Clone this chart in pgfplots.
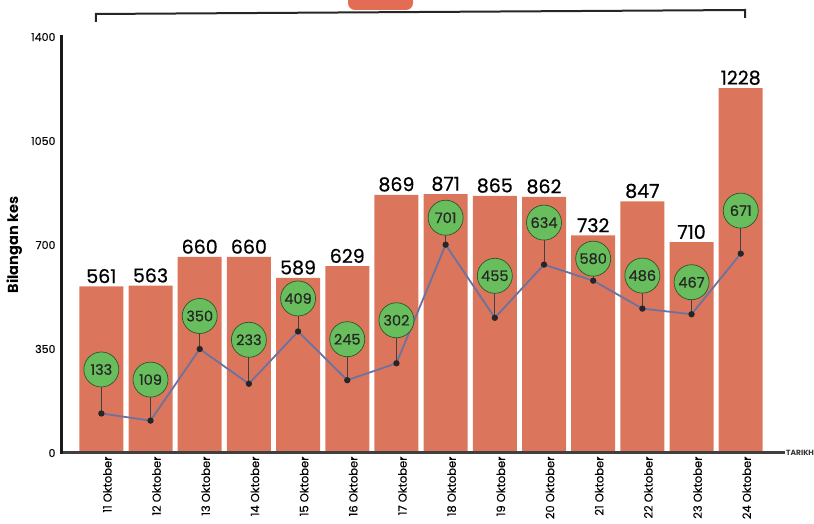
\documentclass[border=0pt]{standalone}
\usepackage{fontspec}
\setmainfont{Poppins}
\newfontfamily\numfont[FakeBold=0.6]{Poppins}
\newfontfamily\tickfont[FakeBold=0.3]{Poppins}
\usepackage{pgfplots}
\usepackage{pgfplotstable}
\pgfplotsset{compat=1.18}

\definecolor{barred}{RGB}{219,118,92}
\definecolor{boxred}{RGB}{226,108,84}
\definecolor{dotgreen}{RGB}{104,190,92}
\definecolor{ringgreen}{RGB}{45,85,45}
\definecolor{slate}{RGB}{108,114,160}

% x, bar value, line value, circle offset (pt), pin length (data units)
\pgfplotstableread{
x cases line off ep
0  561  133 44 148.1
1  563  109 41 138.0
2  660  350 33 111.1
3  660  233 44 148.1
4  589  409 33 111.1
5  629  245 41 138.0
6  869  302 43 144.7
7  871  701 27 90.9
8  865  455 42 141.3
9  862  634 42 141.3
10 732  580 22 74.0
11 847  486 33 111.1
12 710  467 32 107.7
13 1228 671 43 144.7
}\kes

\begin{document}
\begin{tikzpicture}
\begin{axis}[
    scale only axis,
    width=723pt, height=416pt,
    xmin=-0.8, xmax=13.9,
    ymin=0, ymax=1400,
    clip=false,
    axis x line*=bottom,
    axis y line*=left,
    axis line style={draw=none},
    major tick length=0pt,
    ytick={0,350,700,1050,1400},
    xtick={0,...,13},
    xticklabels={11 Oktober,12 Oktober,13 Oktober,14 Oktober,15 Oktober,16 Oktober,17 Oktober,18 Oktober,19 Oktober,20 Oktober,21 Oktober,22 Oktober,23 Oktober,24 Oktober},
    x tick label style={rotate=90, anchor=east, yshift=-6pt, font=\tickfont\fontsize{11.5}{12}\selectfont},
    y tick label style={font=\tickfont\fontsize{11}{12}\selectfont, xshift=-3pt},
    /pgf/number format/1000 sep={},
    /pgf/number format/assume math mode=true,
    ylabel={\bfseries Bilangan kes},
    ylabel style={at={(axis description cs:-0.066,0.5)}, anchor=center, font=\fontsize{14.5}{16}\selectfont},
]

% bars
\addplot[ybar, bar width=44pt, fill=barred, draw=none,
    point meta=y, nodes near coords,
    nodes near coords style={font=\numfont\fontsize{19}{20}\selectfont, anchor=south, inner sep=3pt}]
    table[x=x, y=cases] {\kes};

% pins from points up to circles
\addplot[draw=none, forget plot,
    error bars/.cd, y dir=plus, y explicit, error mark=none,
    error bar style={line width=0.8pt, draw=black!75}]
    table[x=x, y=line, y error plus=ep] {\kes};

% line with circled labels
\addplot[slate, line width=1.8pt,
    mark=*, mark size=2.2pt, mark options={fill=black!85, draw=black!85},
    point meta=y, nodes near coords,
    visualization depends on={\thisrow{off} \as \off},
    nodes near coords style={circle, fill=dotgreen, draw=ringgreen, line width=0.7pt,
        minimum size=35pt, inner sep=0pt, anchor=center, yshift=\off pt,
        text=black!85, font=\numfont\fontsize{14.5}{15}\selectfont}]
    table[x=x, y=line] {\kes};

% axis lines
\draw[line width=3pt, black!75] (rel axis cs:0,0) -- (rel axis cs:1,0);
\draw[line width=3pt, black!90, line cap=rect] (rel axis cs:0,0) -- (rel axis cs:0,1);

\node[anchor=west, inner sep=1pt, font=\fontsize{7.5}{8}\selectfont\bfseries, black!80]
    at (rel axis cs:1,0) {TARIKH};
\end{axis}

% bracket and title box at the top
\draw[line width=2pt, black!85] (34pt,431pt) -- (34pt,439pt) -- (683pt,443pt) -- (683pt,435pt);
\fill[boxred, rounded corners=7pt] (286pt,443pt) rectangle (351pt,480pt);

\pgfresetboundingbox
\path[use as bounding box] (-62pt,-71pt) rectangle (752pt,453pt);
\end{tikzpicture}
\end{document}
